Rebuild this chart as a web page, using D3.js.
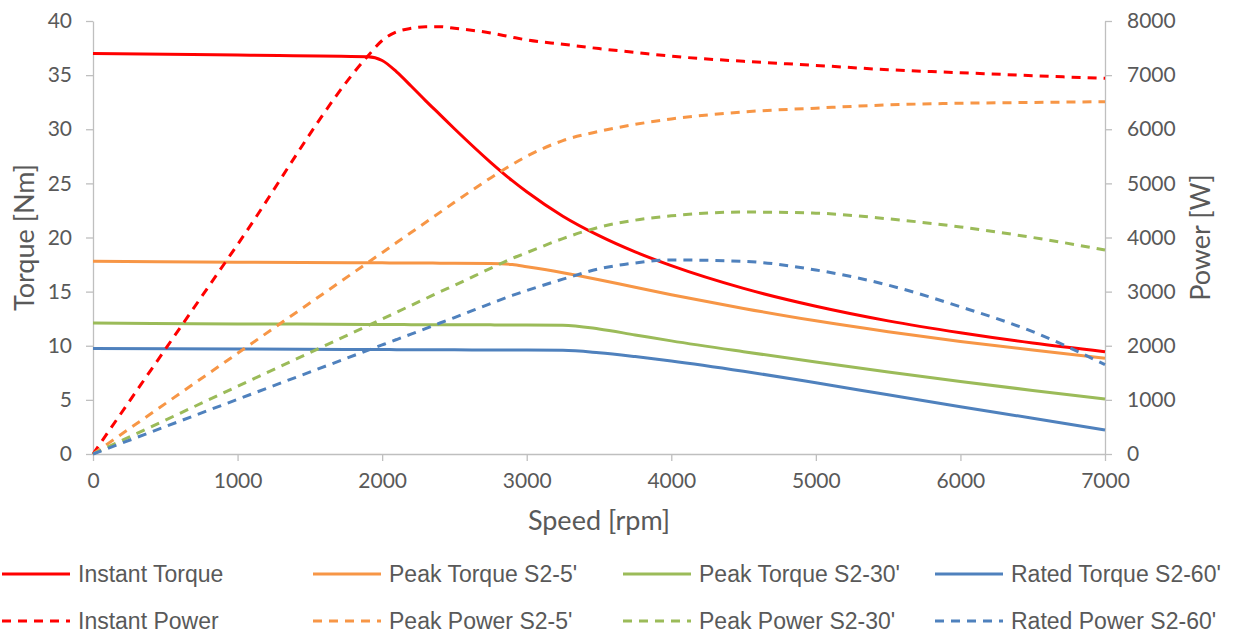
<!DOCTYPE html>
<html>
<head>
<meta charset="utf-8">
<script src="https://cdn.jsdelivr.net/npm/d3@7"></script>
<style>
  body { margin: 0; background: #fff; }
  svg { display: block; }
  .tick text { font-family: Lato, "Open Sans", sans-serif; font-size: 21px; fill: #595959; }
</style>
</head>
<body>
<svg id="chart" width="1238" height="635"></svg>
<script>
// speeds in rpm shared by every series
const speed = [0, 1000, 1900, 2000, 2100, 2200, 2300, 2400, 2500, 2750, 2900, 3000, 3250, 3500, 3750, 4000, 4500, 5000, 5500, 6000, 6500, 7000]

// torque [Nm]
const instantTorque = [37.0, 36.85, 36.7, 36.35, 35.3, 34.0, 32.65, 31.35, 30.05, 26.95, 25.25, 24.22, 21.97, 20.17, 18.67, 17.4, 15.3, 13.65, 12.3, 11.2, 10.25, 9.45]
const peakTorque5 = [17.8, 17.72, 17.66, 17.66, 17.65, 17.65, 17.64, 17.63, 17.62, 17.6, 17.5, 17.3, 16.75, 16.1, 15.4, 14.72, 13.45, 12.3, 11.3, 10.4, 9.6, 8.85]
const peakTorque30 = [12.1, 12.02, 11.97, 11.96, 11.96, 11.95, 11.95, 11.94, 11.94, 11.93, 11.92, 11.92, 11.9, 11.55, 11.0, 10.45, 9.45, 8.5, 7.58, 6.7, 5.87, 5.08]
const ratedTorque60 = [9.75, 9.7, 9.65, 9.65, 9.64, 9.64, 9.63, 9.63, 9.62, 9.61, 9.6, 9.6, 9.58, 9.35, 9.0, 8.6, 7.65, 6.58, 5.47, 4.37, 3.3, 2.22]

// power [W]
const instantPower = [0, 3870, 7350, 7640, 7800, 7865, 7895, 7895, 7865, 7780, 7700, 7650, 7570, 7490, 7420, 7350, 7255, 7180, 7100, 7045, 6990, 6940]
const peakPower5 = [0, 1860, 3534, 3720, 3906, 4092, 4278, 4464, 4650, 5100, 5350, 5500, 5790, 5960, 6090, 6190, 6320, 6390, 6450, 6480, 6495, 6510]
const peakPower30 = [0, 1250, 2370, 2495, 2620, 2745, 2870, 2995, 3115, 3430, 3615, 3720, 3980, 4190, 4320, 4400, 4470, 4450, 4345, 4195, 4000, 3770]
const ratedPower60 = [0, 1010, 1915, 2015, 2115, 2215, 2315, 2420, 2520, 2780, 2930, 3020, 3230, 3420, 3530, 3585, 3560, 3400, 3120, 2720, 2260, 1650]

const xTicks = [0, 1000, 2000, 3000, 4000, 5000, 6000, 7000]
const torqueTicks = [0, 5, 10, 15, 20, 25, 30, 35, 40]
const powerTicks = [0, 1000, 2000, 3000, 4000, 5000, 6000, 7000, 8000]

const series = [
  { name: "Instant Torque", values: instantTorque, axis: "t", color: "#FF0000", dash: null },
  { name: "Peak Torque S2-5'", values: peakTorque5, axis: "t", color: "#F79646", dash: null },
  { name: "Peak Torque S2-30'", values: peakTorque30, axis: "t", color: "#9BBB59", dash: null },
  { name: "Rated Torque S2-60'", values: ratedTorque60, axis: "t", color: "#4F81BD", dash: null },
  { name: "Instant Power", values: instantPower, axis: "p", color: "#FF0000", dash: "9,7" },
  { name: "Peak Power S2-5'", values: peakPower5, axis: "p", color: "#F79646", dash: "9,7" },
  { name: "Peak Power S2-30'", values: peakPower30, axis: "p", color: "#9BBB59", dash: "9,7" },
  { name: "Rated Power S2-60'", values: ratedPower60, axis: "p", color: "#4F81BD", dash: "9,7" }
]

const svg = d3.select("#chart")
const pLeft = 93, pRight = 1105, pTop = 21, pBottom = 454

const x = d3.scaleLinear().domain([0, 7000]).range([pLeft, pRight])
const yT = d3.scaleLinear().domain([0, 40]).range([pBottom, pTop])
const yP = d3.scaleLinear().domain([0, 8000]).range([pBottom, pTop])
const fmt = d3.format("d")

function styleAxis(g) {
  g.selectAll(".domain, .tick line").attr("stroke", "#BFBFBF").attr("stroke-width", 1.3)
}

svg.append("g")
    .attr("transform", `translate(0,${pBottom})`)
    .call(d3.axisBottom(x).tickValues(xTicks).tickFormat(fmt).tickSize(7).tickSizeOuter(0).tickPadding(12))
    .call(styleAxis)

svg.append("g")
    .attr("transform", `translate(${pLeft},0)`)
    .call(d3.axisLeft(yT).tickValues(torqueTicks).tickFormat(fmt).tickSize(7).tickSizeOuter(0).tickPadding(14))
    .call(styleAxis)

svg.append("g")
    .attr("transform", `translate(${pRight},0)`)
    .call(d3.axisRight(yP).tickValues(powerTicks).tickFormat(fmt).tickSize(7).tickSizeOuter(0).tickPadding(15))
    .call(styleAxis)

// axis titles
const titleFont = "Lato, 'Open Sans', sans-serif"
svg.append("text")
    .attr("transform", `translate(34,${(pTop + pBottom) / 2}) rotate(-90)`)
    .attr("text-anchor", "middle")
    .style("font-family", titleFont).style("font-size", "27px").style("fill", "#595959")
    .text("Torque [Nm]")
svg.append("text")
    .attr("transform", `translate(1210,${(pTop + pBottom) / 2}) rotate(-90)`)
    .attr("text-anchor", "middle")
    .style("font-family", titleFont).style("font-size", "27px").style("fill", "#595959")
    .text("Power [W]")
svg.append("text")
    .attr("x", (pLeft + pRight) / 2).attr("y", 530)
    .attr("text-anchor", "middle")
    .style("font-family", titleFont).style("font-size", "27px").style("fill", "#595959")
    .text("Speed [rpm]")

// curves
const plot = svg.append("g")
series.forEach(s => {
  const y = s.axis === "t" ? yT : yP
  const line = d3.line()
      .x((d, i) => x(speed[i]))
      .y(d => y(d))
      .curve(d3.curveMonotoneX)
  plot.append("path")
      .datum(s.values)
      .attr("d", line)
      .attr("fill", "none")
      .attr("stroke", s.color)
      .attr("stroke-width", 3)
      .attr("stroke-dasharray", s.dash)
})

// legend, 4 columns x 2 rows
const colX = [2, 313, 623, 935]
const rowY = [574, 621]
const legend = svg.append("g")
series.forEach((s, i) => {
  const cx = colX[i % 4], cy = rowY[Math.floor(i / 4)]
  legend.append("line")
      .attr("x1", cx).attr("x2", cx + 68)
      .attr("y1", cy).attr("y2", cy)
      .attr("stroke", s.color).attr("stroke-width", 3)
      .attr("stroke-dasharray", s.dash)
  legend.append("text")
      .attr("x", cx + 76).attr("y", cy)
      .attr("dy", "0.35em")
      .style("font-family", "'Liberation Sans', Arial, sans-serif")
      .style("font-size", "23px").style("fill", "#595959")
      .text(s.name)
})
</script>
</body>
</html>
